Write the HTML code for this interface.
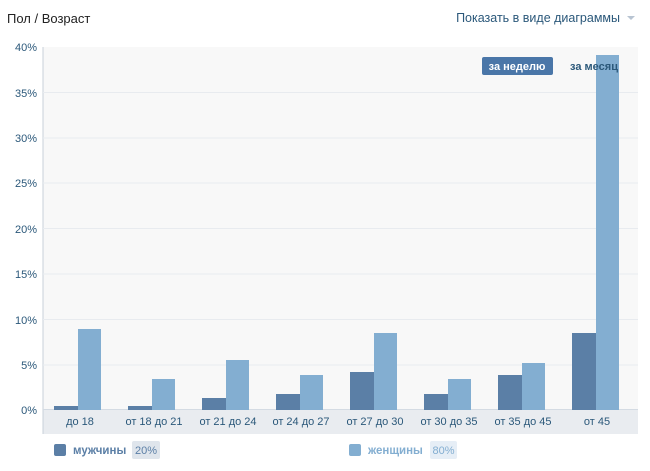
<!DOCTYPE html><html><head><meta charset="utf-8"><style>
body{margin:0;width:650px;height:466px;background:#fff;font-family:"Liberation Sans",sans-serif;overflow:hidden}
</style></head><body>
<svg width="650" height="466" xmlns="http://www.w3.org/2000/svg" font-family="Liberation Sans, sans-serif">
<text x="7" y="23" font-size="13" fill="#222">Пол / Возраст</text>
<text x="620" y="22" font-size="12.5" fill="#2b587a" text-anchor="end">Показать в виде диаграммы</text>
<path d="M627 16l4 4 4-4z" fill="#b8c4d2"/>
<rect x="43" y="47" width="595" height="363" fill="#f8f8f8"/>
<rect x="43" y="410" width="595" height="24" fill="#e9ecf0"/>
<line x1="43" y1="47" x2="43" y2="434" stroke="#c8d0da"/>
<g stroke="#e8ebef">
<line x1="43" x2="638" y1="92.5" y2="92.5"/><line x1="43" x2="638" y1="138" y2="138"/><line x1="43" x2="638" y1="183" y2="183"/><line x1="43" x2="638" y1="228.5" y2="228.5"/><line x1="43" x2="638" y1="274" y2="274"/><line x1="43" x2="638" y1="319.5" y2="319.5"/><line x1="43" x2="638" y1="365" y2="365"/></g>
<line x1="43" x2="638" y1="409.5" y2="409.5" stroke="#d4dbe3"/>
<g font-size="11" fill="#2b587a" text-anchor="end">
<text x="37" y="51">40%</text><text x="37" y="97">35%</text><text x="37" y="142">30%</text><text x="37" y="187">25%</text><text x="37" y="233">20%</text><text x="37" y="278">15%</text><text x="37" y="324">10%</text><text x="37" y="369">5%</text><text x="37" y="414">0%</text></g>
<g fill="#5b7fa6">
<rect x="54" y="406" width="24" height="4"/><rect x="128" y="406" width="24" height="4"/><rect x="202" y="398" width="24" height="12"/><rect x="276" y="394" width="24" height="16"/><rect x="350" y="372" width="24" height="38"/><rect x="424" y="394" width="24" height="16"/><rect x="498" y="375" width="24" height="35"/><rect x="572" y="333" width="24" height="77"/></g>
<g fill="#83aed1">
<rect x="78" y="329" width="23" height="81"/><rect x="152" y="379" width="23" height="31"/><rect x="226" y="360" width="23" height="50"/><rect x="300" y="375" width="23" height="35"/><rect x="374" y="333" width="23" height="77"/><rect x="448" y="379" width="23" height="31"/><rect x="522" y="363" width="23" height="47"/><rect x="596" y="55" width="23" height="355"/></g>
<g font-size="11" fill="#2b587a" text-anchor="middle">
<text x="80" y="425">до 18</text><text x="154" y="425">от 18 до 21</text><text x="228" y="425">от 21 до 24</text><text x="301" y="425">от 24 до 27</text><text x="375" y="425">от 27 до 30</text><text x="449" y="425">от 30 до 35</text><text x="523" y="425">от 35 до 45</text><text x="597" y="425">от 45</text></g>
<rect x="482" y="57" width="71" height="18" rx="2" fill="#4a76a8"/>
<text x="517" y="70" font-size="11" font-weight="bold" fill="#fff" text-anchor="middle">за неделю</text>
<text x="570" y="70" font-size="11" font-weight="bold" fill="#2b587a" textLength="48">за месяц</text>
<rect x="54" y="444" width="12" height="12" rx="2" fill="#5b7fa6"/>
<text x="73" y="454" font-size="11.5" font-weight="bold" fill="#5b7fa6">мужчины</text>
<rect x="132" y="441" width="28" height="18" rx="2" fill="#dfe5ec"/>
<text x="146" y="454" font-size="11" fill="#5b7fa6" text-anchor="middle">20%</text>
<rect x="349" y="444" width="12" height="12" rx="2" fill="#83aed1"/>
<text x="368" y="454" font-size="11.5" font-weight="bold" fill="#83aed1">женщины</text>
<rect x="430" y="441" width="27" height="18" rx="2" fill="#e6eef6"/>
<text x="443.5" y="454" font-size="11" fill="#83aed1" text-anchor="middle">80%</text>
</svg></body></html>
